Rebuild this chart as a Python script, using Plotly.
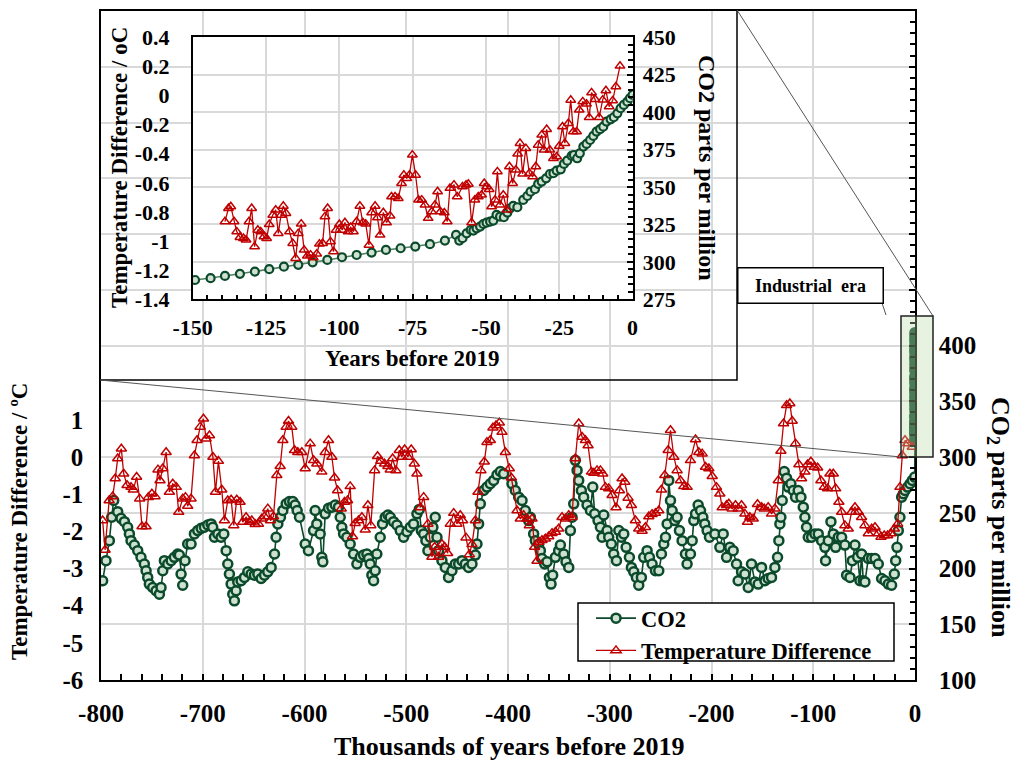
import plotly.graph_objects as go

# ---------------- data ----------------
# Ice-core CO2, thousands of years before 2019
ice_kyr = [-798.4, -795.1, -791.8, -789.5, -787.5, -783.6, -780.3, -777.0, -773.8, -772.1,
           -770.5, -767.2, -763.9, -760.7, -757.4, -755.7, -754.1, -752.5, -749.2, -745.9,
           -742.6, -741.0, -739.3, -737.7, -734.4, -731.1, -727.9, -724.6, -723.0, -721.3,
           -719.7, -717.4, -714.8, -711.5, -708.2, -704.9, -701.6, -698.4, -695.1, -691.8,
           -690.2, -688.5, -685.2, -682.0, -679.3, -677.0, -675.4, -673.8, -672.1, -670.5,
           -668.9, -667.2, -665.6, -662.3, -659.0, -655.7, -652.5, -649.2, -645.9, -642.6,
           -639.3, -636.1, -632.8, -629.5, -627.9, -626.2, -623.6, -621.3, -618.0, -614.8,
           -611.5, -609.2, -607.2, -604.9,
           -599.3, -596.1, -591.1, -589.5, -587.9, -584.6, -583.0, -582.0, -579.7, -576.4,
           -573.1, -569.8, -566.6, -564.9, -563.3, -561.6, -558.4, -555.1, -551.8, -548.5,
           -545.2, -542.0, -538.7, -537.0, -535.4, -533.8, -532.1, -530.5, -528.9, -525.6,
           -523.3, -520.7, -518.0, -515.7, -512.5, -509.2, -505.9, -502.6, -499.3, -496.1,
           -492.8, -489.5, -487.2, -485.2, -482.9, -480.7, -478.7, -476.4, -473.8, -471.5,
           -469.8, -468.2, -464.9, -461.6, -458.4, -455.1, -451.8, -448.5, -445.2, -442.0,
           -438.7, -435.4, -432.1, -430.5, -428.9, -427.2, -424.0, -420.7, -417.4, -414.1,
           -410.8, -407.5, -404.3,
           -396.1, -392.8, -389.5, -386.2, -383.0, -379.7, -378.0, -374.8, -373.1, -369.8,
           -368.2, -366.6, -363.9, -361.6, -359.3, -357.7, -356.1, -353.4, -350.2, -348.5,
           -345.2, -343.0, -340.3, -338.7, -337.0, -335.4, -333.8, -332.1, -330.5, -327.9,
           -325.6, -322.3, -319.0, -316.7, -314.8, -311.5, -309.2, -307.5, -305.9, -302.6,
           -301.0, -298.4, -296.1, -293.4, -291.1, -288.5, -286.2, -283.9, -280.7, -278.7,
           -276.4, -273.8, -271.5, -268.9, -266.6, -263.3, -261.0, -258.4, -255.1, -251.8,
           -249.2, -246.9, -245.2, -243.6, -242.0, -240.3, -238.7, -236.1, -233.8, -231.5,
           -228.9, -225.6, -224.0, -220.7, -219.0, -217.4, -215.7, -213.1, -210.8, -208.5,
           -206.6, -204.3, -202.0,
           -196.7, -191.8, -188.5, -185.2, -182.0, -178.7, -175.4, -173.8, -170.5, -167.2,
           -163.9, -160.7, -157.4, -154.1, -150.8, -147.5, -144.3, -141.0, -137.7, -135.1,
           -133.8, -132.8, -131.8, -130.5, -128.5, -126.2, -124.6, -122.0, -119.7, -117.4,
           -114.8, -112.1, -109.8, -108.2, -106.6, -104.9, -101.6, -98.4, -95.1, -91.8,
           -88.5, -87.9, -85.2, -82.6, -80.3, -78.0, -75.4, -72.1, -68.9, -67.2,
           -63.9, -61.6, -59.0, -56.4, -54.1, -52.5, -50.8, -49.2, -45.9, -42.6,
           -39.3, -36.1, -32.8, -29.5, -26.2, -23.0, -20.3, -19.0, -17.7, -16.4,
           -14.8, -13.1, -11.5, -9.8, -7.2, -4.9, -2.6, -0.3]
ice_co2 = [189, 207, 225, 246, 261, 251, 245, 242, 237, 231,
           225, 221, 216, 210, 204, 198, 192, 186, 183, 180,
           177, 183, 198, 207, 204, 207, 210, 213, 212, 195,
           185, 207, 222, 222, 231, 234, 236, 237, 239, 240,
           237, 228, 231, 228, 231, 216, 204, 195, 186, 177,
           171, 180, 188, 189, 192, 197, 195, 194, 195, 191,
           194, 197, 201, 213, 228, 240, 246, 252, 258, 260,
           260, 257, 252, 246,
           222, 216, 234, 252, 240, 231, 210, 206, 249, 254,
           255, 257, 255, 246, 237, 231, 228, 222, 213, 204,
           210, 212, 213, 209, 204, 194, 189, 198, 213, 228,
           240, 246, 248, 246, 242, 239, 234, 228, 233, 237,
           240, 249, 253, 234, 231, 225, 216, 228, 237, 246,
           228, 216, 207, 201, 192, 198, 204, 204, 207, 204,
           201, 204, 212, 222, 240, 258, 270, 273, 276, 279,
           284, 287, 285,
           276, 270, 264, 261, 252, 243, 246, 231, 225, 222,
           216, 209, 204, 206, 192, 186, 194, 210, 216, 221,
           213, 206, 201, 234, 246, 258, 297, 288, 279, 270,
           264, 257, 252, 273, 249, 243, 237, 228, 248, 234,
           228, 222, 213, 207, 234, 228, 231, 219, 210, 201,
           197, 192, 185, 192, 210, 216, 210, 204, 198, 198,
           213, 222, 228, 240, 279, 261, 252, 243, 246, 234,
           225, 213, 204, 213, 225, 243, 249, 257, 252, 246,
           240, 234, 228,
           231, 219, 231, 210, 219, 216, 204, 189, 197, 195,
           183, 204, 188, 186, 201, 189, 191, 192, 201, 210,
           225, 240, 246, 261, 287, 281, 273, 276, 270, 264,
           270, 264, 255, 246, 237, 228, 228, 231, 231, 225,
           219, 207, 225, 242, 231, 219, 228, 228, 221, 194,
           192, 207, 221, 210, 189, 213, 189, 188, 209, 209,
           209, 204, 191, 189, 186, 185, 195, 207, 219, 234,
           246, 264, 267, 270, 273, 276, 279, 282]

# Temperature difference (deg C), thousands of years before 2019
temp_kyr = [-798.4, -796.0, -792.0, -788.5, -786.0, -783.6, -780.0, -777.7, -774.4, -770.5,
            -768.2, -765.0, -762.0, -759.7, -755.7, -753.4, -750.0, -746.9, -744.0, -742.0,
            -739.3, -736.0, -732.8, -729.5, -726.0, -723.6, -719.7, -717.0, -714.8, -711.5,
            -708.2, -705.6, -702.6, -699.3, -696.7, -693.4, -690.0, -687.5, -684.6, -681.3,
            -678.7, -675.4, -672.1, -669.5, -666.6, -663.3, -660.7, -657.4, -654.1, -651.8,
            -648.5, -645.3, -642.0, -639.3, -636.1, -633.4, -630.5, -627.2, -623.9, -621.3,
            -618.0, -615.7, -612.5, -609.8, -606.6, -602.6, -599.3,
            -594.4, -591.1, -587.9, -583.0, -579.7, -576.4, -573.1, -570.5, -567.5, -563.9,
            -560.7, -557.7, -555.1, -552.8, -550.2, -546.9, -543.6, -540.3, -537.7, -534.8,
            -531.1, -528.2, -524.9, -521.3, -518.0, -515.7, -513.4, -510.2, -506.9, -504.3,
            -501.6, -498.4, -495.1, -492.1, -489.5, -486.2, -482.9, -478.7, -474.8, -472.1,
            -468.2, -464.9, -462.3, -459.3, -456.7, -453.4, -450.2, -446.9, -444.6, -441.3,
            -438.0, -435.4, -432.1, -429.5, -426.6, -423.3, -420.7, -417.4, -414.8, -411.8,
            -408.5, -405.9, -402.6,
            -398.7, -396.7, -391.1, -387.9, -384.6, -381.3, -379.0, -376.4, -373.8, -371.5,
            -369.8, -366.6, -363.3, -360.0, -356.7, -353.4, -350.2, -346.9, -343.6, -340.3,
            -337.0, -333.8, -330.5, -327.2, -323.9, -321.3, -318.0, -315.7, -312.5, -309.2,
            -306.9, -304.3, -301.0, -297.7, -293.8, -290.5, -287.9, -285.2, -282.0, -278.7,
            -274.8, -271.5, -268.2, -264.9, -261.6, -258.4, -255.1, -251.8, -249.2, -245.9,
            -242.6, -240.3, -237.0, -233.8, -230.5, -227.2, -223.9, -220.7, -215.7, -212.5,
            -209.2, -205.9, -202.6,
            -199.3, -195.1, -191.8, -189.5, -185.2, -183.0, -179.7, -176.4, -173.8, -170.5,
            -167.2, -164.6, -162.3, -159.0, -154.8, -150.8, -148.2, -144.3, -141.0, -137.7,
            -134.4, -131.8, -129.2, -126.2, -123.0, -120.7, -117.4, -114.1, -111.5, -108.2,
            -105.6, -102.3, -99.0, -95.7, -92.5, -89.2, -85.9, -83.6, -80.3, -78.0,
            -74.8, -72.1, -68.9, -65.6, -62.3, -59.0, -55.7, -52.5, -49.2, -45.9,
            -42.6, -39.3, -36.1, -33.4, -30.2, -26.9, -23.6, -20.3, -17.0, -14.8,
            -12.5, -9.8, -7.2, -2.6]
temp_dc = [-1.71, -2.50, -1.17, -1.06, -0.58, -0.04, 0.22, -0.45, -0.76, -0.81,
           -0.88, -0.54, -1.12, -1.87, -1.87, -1.08, -0.99, -1.06, -0.34, -0.63,
           -0.31, 0.13, -0.94, -0.72, -0.81, -1.48, -1.12, -1.08, -1.32, -1.12,
           0.04, 0.45, 0.81, 1.03, 0.49, 0.58, 0.0, -0.94, -0.11, -0.88,
           -1.71, -1.17, -1.15, -1.84, -1.15, -1.21, -1.75, -1.62, -1.75, -1.71,
           -1.81, -1.80, -1.66, -1.60, -1.39, -1.71, -1.60, -0.49, -0.25, 0.45,
           0.81, 0.97, 0.81, 0.18, 0.13, 0.13, -0.31,
           0.36, -0.09, -0.18, -0.40, 0.13, 0.45, 0.0, -0.56, -0.90, -1.39,
           -1.21, -1.17, -0.79, -2.14, -1.78, -1.71, -1.62, -1.96, -1.30, -1.84,
           -0.36, 0.02, -0.11, -0.18, -0.25, -0.34, -0.04, -0.36, 0.18, 0.0,
           0.20, 0.0, 0.20, -0.18, -0.45, -1.36, -1.08, -1.80, -2.69, -2.42,
           -2.69, -2.35, -2.42, -2.59, -1.80, -1.51, -1.80, -1.57, -1.71, -2.17,
           -2.62, -2.35, -1.71, -0.94, -0.36, -0.13, 0.40, 0.45, 0.79, 0.85,
           0.92, 0.67, 0.13,
           -0.31, -0.56, -1.44, -1.66, -1.57, -1.66, -1.84, -1.66, -2.42, -2.80,
           -2.29, -2.24, -2.20, -2.14, -2.05, -2.02, -1.93, -1.62, -1.66, -1.57,
           -1.62, -0.04, 0.90, 0.54, 0.45, 0.31, -0.40, -0.43, -0.36, -0.36,
           -0.45, -0.81, -0.85, -1.03, -1.36, -0.90, -0.58, -0.67, -1.10, -1.30,
           -1.71, -1.93, -1.99, -1.89, -1.60, -1.54, -1.51, -1.44, -0.88, -0.49,
           0.18, 0.72, 0.0, -0.36, -0.63, -0.79, -0.81, -0.09, 0.47, 0.13,
           0.09, -0.27, -0.31,
           -0.52, -0.81, -0.99, -1.36, -1.30, -1.26, -1.39, -1.30, -1.39, -1.30,
           -1.53, -1.75, -1.62, -1.66, -1.27, -1.35, -1.39, -1.35, -1.53, -1.39,
           -0.63, 0.16, 0.90, 1.39, 1.44, 0.97, 0.36, -0.20, -0.58, -0.40,
           -0.20, -0.13, -0.27, -0.29, -0.63, -0.81, -0.85, -0.45, -0.45, -0.85,
           -1.21, -1.48, -1.84, -1.93, -1.48, -1.35, -1.48, -1.62, -1.84, -2.06,
           -1.93, -1.89, -2.06, -2.15, -2.11, -2.11, -2.06, -1.93, -1.80, -0.81,
           0.04, 0.45, 0.36, 0.27]

# Recent CO2 (ppm), years before 2019
recent_yr = [-149.2, -143.9, -139.0, -133.9, -128.8, -123.9, -118.9, -114.0, -109.1, -104.1,
             -99.1, -94.1, -89.0, -84.1, -79.1, -74.1, -69.1, -64.0, -60.2, -59.1,
             -58.0, -56.6, -55.2, -54.3, -53.2, -52.0, -50.9, -49.8, -48.6, -47.5,
             -46.4, -45.2, -43.9, -42.7, -41.8, -40.7, -39.3, -37.3, -35.9, -34.8,
             -33.3, -32.2, -31.0, -29.5, -28.2, -27.0, -25.9, -24.5, -23.4, -22.3,
             -20.8, -20.0, -18.9, -18.0, -16.8, -15.7, -14.5, -13.4, -12.3, -11.1,
             -10.0, -8.9, -7.5, -6.4, -5.2, -4.1, -3.0, -1.8, -0.9, 0.0]
recent_co2 = [287.9, 289.1, 290.6, 292.0, 293.5, 295.1, 296.8, 298.0, 299.7, 301.3,
              303.1, 304.6, 306.2, 308.0, 309.1, 310.2, 311.8, 314.2, 318.0, 314.2,
              315.8, 319.1, 321.3, 320.9, 322.4, 323.6, 325.3, 326.2, 326.9, 327.6,
              331.4, 330.2, 329.8, 332.9, 335.8, 337.4, 336.5, 341.4, 344.0, 346.9,
              348.5, 352.1, 353.6, 355.8, 358.7, 359.2, 361.0, 361.8, 365.4, 367.6,
              370.8, 371.4, 369.2, 372.5, 377.0, 378.8, 381.4, 384.1, 387.0, 388.6,
              390.3, 393.7, 395.2, 396.6, 399.2, 402.6, 404.8, 407.0, 409.3, 411.5]

# Recent temperature difference (deg C), years before 2019
inst_yr = [-139.0, -137.8, -137.0, -135.9, -135.0, -133.9, -132.7, -131.8, -130.8, -129.9,
           -128.9, -127.8, -126.8, -125.7, -124.8, -123.9, -122.7, -121.7, -120.8, -119.9,
           -119.1, -118.2, -117.0, -115.9, -114.9, -114.0, -113.0, -112.0, -110.9, -109.8,
           -108.9, -107.7, -106.8, -105.7, -104.9, -104.0, -103.0, -102.0, -101.1, -100.0,
           -99.0, -98.1, -97.0, -96.1, -95.2, -94.1, -93.0, -92.0, -91.0, -89.9,
           -89.0, -87.8, -87.0, -86.1, -85.0, -83.9, -82.7, -82.2, -81.0, -79.9,
           -78.8, -78.0, -77.0, -76.1, -75.1, -74.0, -73.0, -71.9, -70.8, -69.7,
           -68.5, -67.4, -66.5, -65.5, -64.2, -63.2, -62.3, -60.9, -59.8, -58.0,
           -56.8, -56.0, -54.9, -53.8, -52.6, -51.5, -50.6, -49.8, -48.9, -48.1,
           -46.9, -46.1, -45.2, -44.1, -42.9, -42.0, -40.9, -39.8, -39.2, -38.4,
           -37.5, -36.4, -35.2, -34.1, -33.0, -32.2, -31.0, -30.2, -29.3, -28.2,
           -27.0, -25.9, -25.0, -23.9, -23.1, -21.9, -21.1, -20.2, -19.1, -18.2,
           -17.0, -15.7, -14.8, -14.0, -12.8, -11.4, -10.2, -9.1, -8.0, -6.8,
           -5.7, -4.3]
inst_dc = [-0.866, -0.775, -0.763, -0.866, -0.935, -0.974, -0.981, -0.992, -0.866, -0.775,
           -1.038, -0.924, -0.935, -0.969, -0.981, -0.885, -0.821, -0.786, -0.947, -0.821,
           -0.759, -0.809, -0.935, -1.015, -1.118, -0.947, -0.882, -1.061, -1.102, -1.095,
           -1.114, -1.088, -1.020, -1.015, -0.832, -0.775, -1.004, -1.072, -0.924, -0.885,
           -0.924, -0.873, -0.935, -0.905, -0.935, -0.866, -0.759, -0.873, -0.882, -1.027,
           -0.804, -0.759, -0.839, -0.958, -0.804, -0.873, -0.827, -0.695, -0.695, -0.706,
           -0.603, -0.546, -0.569, -0.546, -0.408, -0.546, -0.717, -0.717, -0.752, -0.843,
           -0.798, -0.752, -0.660, -0.798, -0.805, -0.866, -0.637, -0.614, -0.695, -0.626,
           -0.614, -0.608, -0.873, -0.717, -0.695, -0.683, -0.603, -0.626, -0.644, -0.763,
           -0.717, -0.523, -0.752, -0.683, -0.786, -0.488, -0.603, -0.511, -0.401, -0.328,
           -0.539, -0.363, -0.534, -0.557, -0.488, -0.340, -0.271, -0.374, -0.232, -0.374,
           -0.431, -0.420, -0.347, -0.214, -0.328, -0.191, -0.031, -0.248, -0.248, -0.099,
           -0.042, -0.058, -0.150, 0.020, -0.026, -0.150, -0.030, 0.034, -0.076, -0.035,
           0.061, 0.203]

# tick values / labels
main_x_ticks = [-800, -700, -600, -500, -400, -300, -200, -100, 0]
main_t_ticks = [-6, -5, -4, -3, -2, -1, 0, 1]
main_c_ticks = [100, 150, 200, 250, 300, 350, 400, 450, 500, 550, 600, 650, 700]
main_c_labels = ["100", "150", "200", "250", "300", "350", "400", "", "", "", "", "", ""]
inset_x_ticks = [-150, -125, -100, -75, -50, -25, 0]
inset_t_ticks = [-1.4, -1.2, -1.0, -0.8, -0.6, -0.4, -0.2, 0.0, 0.2, 0.4]
inset_t_labels = ["-1.4", "-1.2", "-1", "-0.8", "-0.6", "-0.4", "-0.2", "0", "0.2", "0.4"]
inset_c_ticks = [275, 300, 325, 350, 375, 400, 425, 450]

# ---------------- styling ----------------
W, H = 1022, 760
FONT = "Liberation Serif"
GREEN = "#0b4a2b"
GREEN_FILL = "#cfe2d2"
RED = "#c00000"
GRID = "#d9d9d9"


def px(x):
    return x / W


def py(y):
    return 1 - y / H


def tf(size):
    return dict(family=FONT, size=size, color="black", weight="bold")


# main CO2 series: ice core plus the annual (instrumental) part of the recent record
recent_main = [(y / 1000, c) for y, c in zip(recent_yr, recent_co2) if y >= -60]
main_co2_x = ice_kyr + [p[0] for p in recent_main]
main_co2_y = ice_co2 + [p[1] for p in recent_main]
main_co2_fill = [GREEN_FILL] * len(ice_kyr) + [GREEN] * len(recent_main)

fig = go.Figure()

fig.add_trace(go.Scatter(
    x=main_co2_x, y=main_co2_y, name="CO2", xaxis="x", yaxis="y",
    mode="lines+markers",
    line=dict(color=GREEN, width=1.6),
    marker=dict(symbol="circle", size=9, color=main_co2_fill, line=dict(color=GREEN, width=2.5)),
    hoverinfo="skip"))
fig.add_trace(go.Scatter(
    x=temp_kyr, y=temp_dc, name="Temperature Difference", xaxis="x", yaxis="y2",
    mode="lines+markers",
    line=dict(color=RED, width=1.3),
    marker=dict(symbol="triangle-up-open", size=9, color=RED, line=dict(color=RED, width=1.5)),
    hoverinfo="skip"))

# inset traces
fig.add_trace(go.Scatter(
    x=recent_yr, y=recent_co2, xaxis="x3", yaxis="y4", showlegend=False,
    mode="lines+markers",
    line=dict(color="#4f7f5f", width=1.5),
    marker=dict(symbol="circle", size=8, color=GREEN_FILL, line=dict(color=GREEN, width=2.2)),
    hoverinfo="skip"))
fig.add_trace(go.Scatter(
    x=inst_yr, y=inst_dc, xaxis="x3", yaxis="y5", showlegend=False,
    mode="lines+markers",
    line=dict(color=RED, width=1.3),
    marker=dict(symbol="triangle-up-open", size=8.5, color=RED, line=dict(color=RED, width=1.5)),
    hoverinfo="skip"))

main_dom_x = [px(101), px(915)]
main_dom_y = [py(680), py(11)]
back_dom_x = [px(100), px(737)]
back_dom_y = [py(380), py(10)]
ins_dom_x = [px(192.7), px(632.6)]
ins_dom_y = [py(299.3), py(37.3)]

fig.update_layout(
    width=W, height=H, autosize=False,
    margin=dict(l=0, r=0, t=0, b=0, pad=0),
    paper_bgcolor="white", plot_bgcolor="white",
    font=tf(20),
    xaxis=dict(domain=main_dom_x, anchor="y", range=[-800, 0], automargin=False,
               tickvals=main_x_ticks, ticktext=[str(v) for v in main_x_ticks],
               tickfont=tf(25), ticks="inside", ticklen=6, tickwidth=1.5, tickcolor="black",
               minor=dict(dtick=20, tick0=0, ticks="inside", ticklen=6, tickwidth=1.5, tickcolor="black", showgrid=False),
               showgrid=True, gridcolor=GRID, gridwidth=1.5, zeroline=False,
               showline=True, linecolor="black", linewidth=1.5, mirror=True,
               ticklabelstandoff=10),
    yaxis=dict(domain=main_dom_y, anchor="x", side="right", range=[100, 700], automargin=False,
               tickvals=main_c_ticks, ticktext=main_c_labels,
               tickfont=tf(25), ticks="inside", ticklen=6, tickwidth=1.5, tickcolor="black",
               minor=dict(dtick=10, tick0=0, ticks="inside", ticklen=5, tickwidth=1.5, tickcolor="black", showgrid=False),
               showgrid=True, gridcolor=GRID, gridwidth=1.5, zeroline=False,
               showline=True, linecolor="black", linewidth=1.5,
               ticklabelstandoff=17),
    yaxis2=dict(overlaying="y", anchor="x", side="left", range=[-6, 12], automargin=False,
                tickvals=main_t_ticks, ticktext=[str(v) for v in main_t_ticks],
                tickfont=tf(25), ticks="", showgrid=False, zeroline=False,
                showline=True, linecolor="black", linewidth=1.5,
                ticklabelstandoff=11),
    # white backing panel for the inset
    xaxis2=dict(domain=back_dom_x, anchor="y3", range=[0, 1], showgrid=False, zeroline=False, automargin=False,
                showticklabels=False, showline=False, ticks="", fixedrange=True),
    yaxis3=dict(domain=back_dom_y, anchor="x2", range=[0, 1], showgrid=False, zeroline=False, automargin=False,
                showticklabels=False, showline=False, ticks="", fixedrange=True),
    # inset
    xaxis3=dict(domain=ins_dom_x, anchor="y4", range=[-150, 0], automargin=False,
                tickvals=inset_x_ticks, ticktext=[str(v) for v in inset_x_ticks],
                tickfont=tf(22), ticks="inside", ticklen=6, tickwidth=1.5, tickcolor="black",
                minor=dict(dtick=5, tick0=0, ticks="inside", ticklen=5, tickwidth=1.5, tickcolor="black", showgrid=False),
                showgrid=True, gridcolor=GRID, gridwidth=1.5, zeroline=False,
                showline=True, linecolor="black", linewidth=1.5, mirror=True,
                ticklabelstandoff=8),
    yaxis4=dict(domain=ins_dom_y, anchor="x3", side="right", range=[275, 450], automargin=False,
                tickvals=inset_c_ticks, ticktext=[str(v) for v in inset_c_ticks],
                tickfont=tf(22), ticks="inside", ticklen=6, tickwidth=1.5, tickcolor="black",
                minor=dict(dtick=5, tick0=0, ticks="inside", ticklen=5, tickwidth=1.5, tickcolor="black", showgrid=False),
                showgrid=True, gridcolor=GRID, gridwidth=1.5, zeroline=False,
                showline=True, linecolor="black", linewidth=1.5,
                ticklabelstandoff=4),
    yaxis5=dict(overlaying="y4", anchor="x3", side="left", range=[-1.4, 0.4], automargin=False,
                tickvals=inset_t_ticks, ticktext=inset_t_labels,
                tickfont=tf(22), ticks="", showgrid=False, zeroline=False,
                showline=True, linecolor="black", linewidth=1.5,
                ticklabelstandoff=17),
    legend=dict(x=px(591), y=py(597), xanchor="left", yanchor="top",
                bgcolor="rgba(0,0,0,0)", borderwidth=0,
                font=tf(22.5), tracegroupgap=0, itemwidth=40),
    showlegend=True,
)

shapes = [
    # inset frame
    dict(type="rect", xref="paper", yref="paper", x0=px(100), x1=px(737), y0=py(380), y1=py(10),
         line=dict(color="black", width=1.5), fillcolor="rgba(0,0,0,0)", layer="above"),
    # zoom connector lines
    dict(type="line", xref="paper", yref="paper", x0=px(737), y0=py(10), x1=px(933), y1=py(316),
         line=dict(color="#555555", width=1), layer="above"),
    dict(type="line", xref="paper", yref="paper", x0=px(100), y0=py(380), x1=px(901), y1=py(457),
         line=dict(color="#555555", width=1), layer="above"),
    # industrial era box
    dict(type="rect", xref="paper", yref="paper", x0=px(901), x1=px(933), y0=py(457), y1=py(316),
         line=dict(color="#222222", width=1.5), fillcolor="rgba(189,218,166,0.35)", layer="above"),
    # leader line
    dict(type="line", xref="paper", yref="paper", x0=px(882), y0=py(303), x1=px(886), y1=py(315),
         line=dict(color="#555555", width=1), layer="above"),
    # legend frame
    dict(type="rect", xref="paper", yref="paper", x0=px(578), x1=px(894), y0=py(661), y1=py(603),
         line=dict(color="black", width=1.5), fillcolor="white", layer="above"),
]
fig.update_layout(shapes=shapes)

ann = [
    dict(text="Thousands of years before 2019", x=px(509), y=py(746), font=tf(26)),
    dict(text="Temperature Difference / ºC", x=px(19), y=py(522), textangle=-90, font=tf(23)),
    dict(text="CO<sub>2</sub> parts per million", x=px(999), y=py(517), textangle=90, font=tf(26)),
    dict(text="Years before 2019", x=px(412), y=py(358), font=tf(23)),
    dict(text="Temperature Difference / oC", x=px(119), y=py(168), textangle=-90, font=tf(23)),
    dict(text="CO2 parts per million", x=px(707), y=py(168), textangle=90, font=tf(24)),
    dict(text="Industrial  era", x=px(810), y=py(285.5), font=tf(18), bgcolor="white",
         bordercolor="black", borderwidth=1.5, borderpad=2, width=140, height=30),
]
for a in ann:
    a.update(xref="paper", yref="paper", showarrow=False, xanchor="center", yanchor="middle")
fig.update_layout(annotations=ann)

fig.write_html("out.html", config={"displayModeBar": False},
               post_script="document.body.style.margin='0px';document.body.style.overflow='hidden';")
